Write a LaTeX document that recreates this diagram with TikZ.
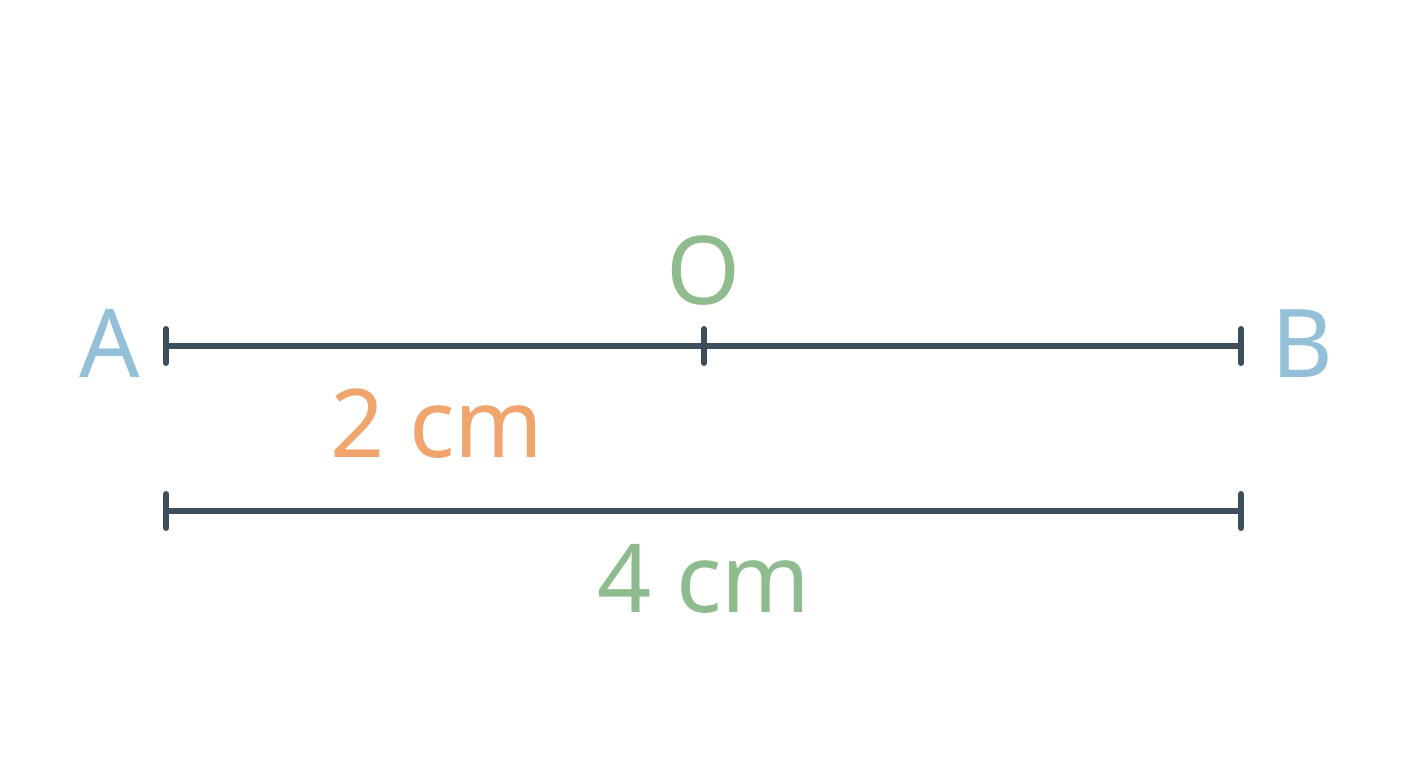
\documentclass[tikz,border=0pt]{standalone}
\usepackage{fontspec}
\setmainfont{Noto Sans}
\usetikzlibrary{positioning}

\definecolor{segcol}{HTML}{3D4F5C}
\definecolor{ptblue}{HTML}{93BFD9}
\definecolor{midgreen}{HTML}{8FBC8F}
\definecolor{lenorange}{HTML}{F0A46E}

\tikzset{
  seg/.style={draw=segcol, line width=1.7pt, line cap=round},
  lbl/.style={anchor=base, inner sep=0pt, font=\fontsize{27}{28}\selectfont}
}

\begin{document}
\begin{tikzpicture}
        \useasboundingbox (0,0) rectangle (14.08,7.68);

        \coordinate (A) at (1.66,4.22);
        \coordinate (O) at (7.04,4.22);
        \coordinate (B) at (12.41,4.22);
        \coordinate (L) at (1.66,2.57);
        \coordinate (R) at (12.41,2.57);

        \node [lbl, text=ptblue] (nA) at (1.10,3.90) {A};
        \node [lbl, text=ptblue] (nB) at (13.02,3.90) {B};
        \node [lbl, text=midgreen] (nO) at (7.04,4.63) {O};
        \node [lbl, text=lenorange] (half) at (4.37,3.10) {2 cm};
        \node [lbl, text=midgreen] (full) at (7.04,1.55) {4 cm};

        \draw [seg] (A) -- (B);
        \foreach \p in {A,O,B,L,R}
          \draw [seg] ([yshift=-0.17cm]\p) -- ([yshift=0.17cm]\p);

        \draw [seg] (L) -- (R);
      \end{tikzpicture}
\end{document}
